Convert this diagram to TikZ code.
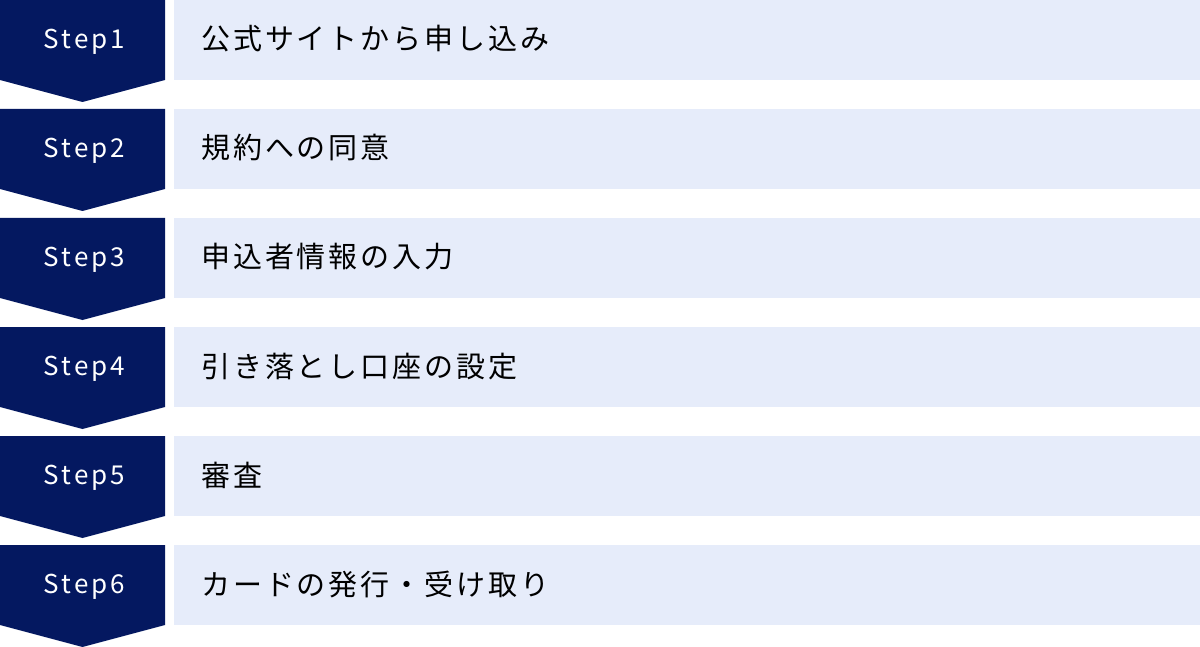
\documentclass[tikz,border=0pt]{standalone}
\usepackage{fontspec}
\setmainfont{Noto Sans CJK JP}
\newfontfamily\jpfont[LetterSpace=10]{Noto Sans CJK JP}
\newfontfamily\stepfont[LetterSpace=12]{Noto Sans CJK JP}
\definecolor{navy}{RGB}{4,24,96}
\definecolor{pale}{RGB}{230,236,250}
\tikzset{
  chevron/.style={fill=navy},
  panel/.style={fill=pale},
  steplabel/.style={anchor=base,inner sep=0pt,text=white,font=\stepfont\fontsize{26pt}{28pt}\selectfont},
  desclabel/.style={anchor=base west,inner sep=0pt,text=black,font=\jpfont\fontsize{29pt}{31pt}\selectfont}
}
\begin{document}
\begin{tikzpicture}[x=1pt,y=-1pt]
\useasboundingbox (0,0) rectangle (1200,647);
\foreach \i/\t in {0/公式サイトから申し込み,1/規約への同意,2/申込者情報の入力,3/引き落とし口座の設定,4/審査,5/カードの発行・受け取り}{
  \pgfmathsetmacro{\y}{109*\i}
  \pgfmathtruncatemacro{\n}{\i+1}
  \fill[chevron] (0,\y) -- (165,\y) -- (165,\y+80) -- (82.5,\y+102) -- (0,\y+80) -- cycle;
  \fill[panel] (174,\y) rectangle (1200,\y+80);
  \node[steplabel] (step\n) at (84.5,\y+48.8) {Step\n};
  \node[desclabel] (desc\n) at (201,\y+50) {\t};
}
\end{tikzpicture}
\end{document}
